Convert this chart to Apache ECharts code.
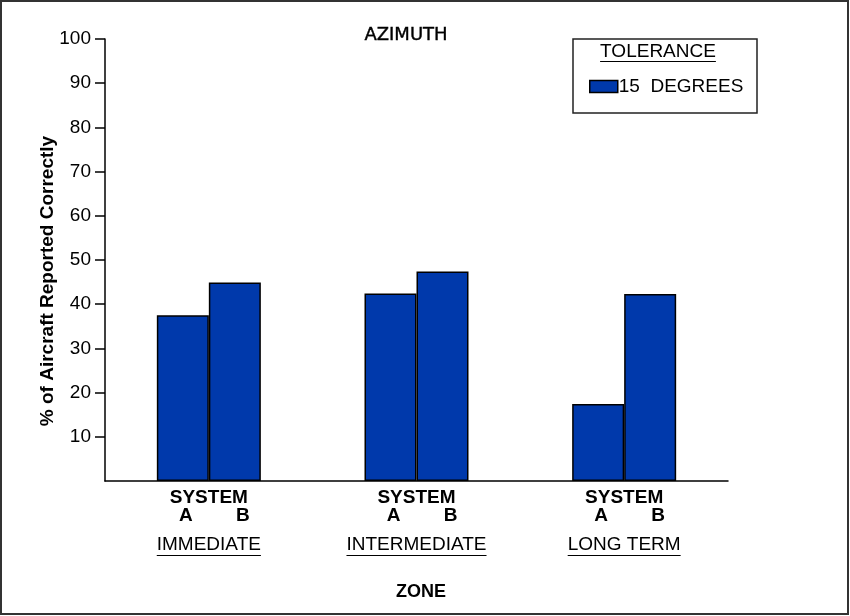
<!DOCTYPE html>
<html><head><meta charset="utf-8">
<script src="https://cdn.jsdelivr.net/npm/echarts@6/dist/echarts.min.js"></script>
<style>html,body{margin:0;padding:0;background:#fff}#c{width:850px;height:616px}</style>
</head><body><div id="c"></div>
<script>
const zones = ['IMMEDIATE', 'INTERMEDIATE', 'LONG TERM'];
const systemA = [37.5, 42.4, 17.4];
const systemB = [44.9, 47.4, 42.3];
const yTicks = [10, 20, 30, 40, 50, 60, 70, 80, 90, 100];
const seriesName = '15  DEGREES';

const FONT = '"Liberation Sans", Arial, Helvetica, sans-serif';
const BAR = '#0039AB';
const chart = echarts.init(document.getElementById('c'), null, {renderer: 'canvas'});

const barStyle = {color: BAR, borderColor: '#000', borderWidth: 1.5};
const bold19 = {fontFamily: FONT, fontWeight: 'bold', fontSize: 19, lineHeight: 18, color: '#000'};
const option = {
  backgroundColor: '#fff',
  animation: false,
  grid: {left: 105, right: 122, top: 39, bottom: 135},
  legend: {
    data: [seriesName], left: 589, top: 77, padding: 0,
    itemWidth: 28, itemHeight: 12, icon: 'rect', itemGap: 0,
    itemStyle: {borderColor: '#000', borderWidth: 1.5},
    textStyle: {fontFamily: FONT, fontSize: 19, color: '#000', padding: [0, 0, 0, -4]},
    selectedMode: false
  },
  xAxis: {
    type: 'category', data: zones,
    axisLine: {lineStyle: {color: '#000', width: 1.5}},
    axisTick: {show: false},
    axisLabel: {
      margin: 8, interval: 0,
      formatter: v => '{s|SYSTEM}\n{g| }{a|A}{b|B}\n{c|' + v + '}',
      rich: {
        s: bold19,
        g: Object.assign({}, bold19, {width: 11}),
        a: Object.assign({}, bold19, {width: 57, align: 'center'}),
        b: Object.assign({}, bold19, {width: 57, align: 'center'}),
        c: {fontFamily: FONT, fontSize: 19, lineHeight: 40, color: '#000'}
      }
    }
  },
  yAxis: {
    type: 'value', min: 0, max: 100, interval: 10,
    splitLine: {show: false},
    axisLine: {show: true, lineStyle: {color: '#000', width: 1.5}},
    axisTick: {show: true, length: 10, customValues: yTicks, lineStyle: {color: '#000', width: 1.5}},
    axisLabel: {
      margin: 14, fontFamily: FONT, fontSize: 19, color: '#000', customValues: yTicks
    }
  },
  series: [
    {name: seriesName, type: 'bar', data: systemA, barWidth: 52, barGap: '0%', barCategoryGap: '50%', itemStyle: barStyle},
    {name: seriesName, type: 'bar', data: systemB, barWidth: 52, barGap: '0%', barCategoryGap: '50%', itemStyle: barStyle}
  ],
  graphic: [
    {type: 'rect', shape: {x: 1, y: 1, width: 847, height: 613}, style: {fill: 'none', stroke: '#333', lineWidth: 2}, silent: true, z: 100},
    {type: 'text', x: 406, y: 35, style: {text: 'AZIMUTH', font: '18px "DejaVu Sans", sans-serif', fill: '#000', stroke: '#000', lineWidth: 0.4, align: 'center', verticalAlign: 'middle'}},
    {type: 'text', x: 421, y: 592, style: {text: 'ZONE', font: 'bold 18px ' + FONT, fill: '#000', align: 'center', verticalAlign: 'middle'}},
    {type: 'text', x: 48, y: 281, rotation: Math.PI / 2, style: {text: '% of Aircraft Reported Correctly', font: 'bold 19px ' + FONT, fill: '#000', align: 'center', verticalAlign: 'middle'}},
    {type: 'rect', shape: {x: 573, y: 39, width: 184, height: 74}, style: {fill: 'none', stroke: '#222', lineWidth: 1.5}},
    {type: 'text', x: 658, y: 52, style: {text: 'TOLERANCE', font: '19px ' + FONT, fill: '#000', align: 'center', verticalAlign: 'middle'}}
  ]
};
chart.setOption(option);

// underlines for category labels and legend title, measured from the rendered text
const cv = document.createElement('canvas').getContext('2d');
cv.font = '19px "Liberation Sans", Arial, sans-serif';
const extra = [];
zones.forEach(z => {
  const cx = chart.convertToPixel({xAxisIndex: 0}, z);
  const w = cv.measureText(z).width;
  extra.push({type: 'line', shape: {x1: cx - w / 2, y1: 555.5, x2: cx + w / 2, y2: 555.5}, style: {stroke: '#000', lineWidth: 1}});
});
const tw = cv.measureText('TOLERANCE').width;
extra.push({type: 'line', shape: {x1: 658 - tw / 2, y1: 61.5, x2: 658 + tw / 2, y2: 61.5}, style: {stroke: '#000', lineWidth: 1}});
chart.setOption({graphic: option.graphic.concat(extra)});
</script>
</body></html>
